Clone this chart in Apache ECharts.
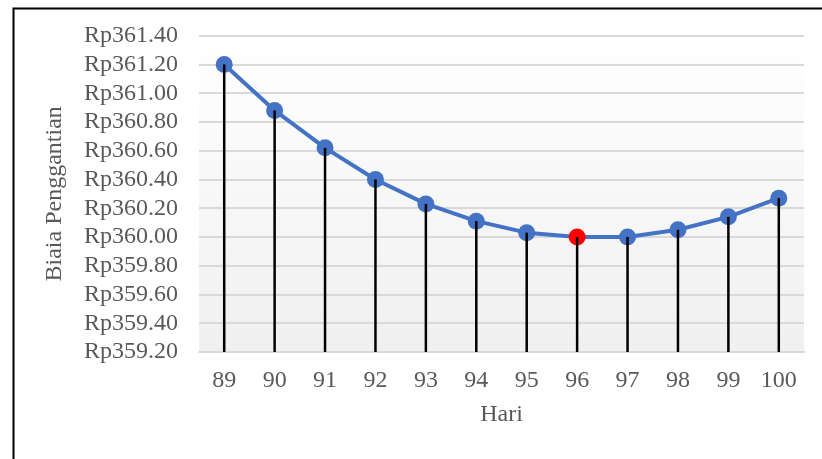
<!DOCTYPE html>
<html>
<head>
<meta charset="utf-8">
<script src="https://cdn.jsdelivr.net/npm/echarts@6/dist/echarts.min.js"></script>
<style>html,body{margin:0;padding:0;background:#fff;}#c{width:822px;height:459px;}</style>
</head>
<body>
<div id="c"></div>
<script>
const days = ['89','90','91','92','93','94','95','96','97','98','99','100'];
const costs = [361.20, 360.88, 360.62, 360.40, 360.23, 360.11, 360.03, 360.00, 360.00, 360.05, 360.14, 360.27];
const minIndex = 7;
const yMin = 359.2, yMax = 361.4, yStep = 0.2;
const xTitle = 'Hari';
const yTitle = 'Biaia Penggantian';

const chart = echarts.init(document.getElementById('c'), null, {renderer:'canvas'});
const font = '"Liberation Serif", "Times New Roman", serif';
const lineData = costs.map((v, i) => i === minIndex
  ? {value: v, itemStyle: {color: '#FF0000', borderColor: '#FF0000'}}
  : v);

chart.setOption({
  animation: false,
  backgroundColor: '#fff',
  graphic: [{
    type: 'rect', left: 11, top: 6, z: 100, silent: true,
    shape: {x: 0, y: 0, width: 900, height: 600},
    style: {fill: 'none', stroke: '#000', lineWidth: 2}
  }],
  grid: {
    left: 199, right: 18, top: 35.7, bottom: 107,
    show: true, borderWidth: 0,
    backgroundColor: {type: 'linear', x: 0, y: 0, x2: 0, y2: 1,
      colorStops: [{offset: 0, color: '#ffffff'}, {offset: 1, color: '#f0f0f0'}]}
  },
  xAxis: {
    type: 'category', data: days, boundaryGap: true,
    name: xTitle, nameLocation: 'middle', nameGap: 51,
    nameTextStyle: {fontFamily: font, fontSize: 24, color: '#595959'},
    axisLine: {lineStyle: {color: '#d9d9d9', width: 2}},
    axisTick: {show: false},
    axisLabel: {fontFamily: font, fontSize: 24, color: '#595959', margin: 17},
    splitLine: {show: false}
  },
  yAxis: {
    type: 'value', min: yMin, max: yMax, interval: yStep,
    name: yTitle, nameLocation: 'middle', nameGap: 132,
    nameTextStyle: {fontFamily: font, fontSize: 24, color: '#595959'},
    axisLine: {show: false}, axisTick: {show: false},
    axisLabel: {fontFamily: font, fontSize: 24, color: '#595959', margin: 21,
      formatter: v => 'Rp' + v.toFixed(2)},
    splitLine: {lineStyle: {color: '#d9d9d9', width: 2}}
  },
  series: [{
    type: 'line', data: lineData, z: 2,
    symbol: 'circle', symbolSize: 17,
    lineStyle: {color: '#4472C4', width: 4},
    itemStyle: {color: '#4472C4', borderColor: '#4472C4', borderWidth: 0}
  }, {
    type: 'custom', z: 5,
    data: costs.map((v, i) => [i, v]),
    renderItem: function (params, api) {
      const top = api.coord([api.value(0), api.value(1)]);
      const bot = api.coord([api.value(0), yMin]);
      return {
        type: 'line',
        shape: {x1: top[0], y1: top[1], x2: bot[0], y2: bot[1]},
        style: {stroke: '#000', lineWidth: 2.5}
      };
    }
  }]
});
</script>
</body>
</html>
